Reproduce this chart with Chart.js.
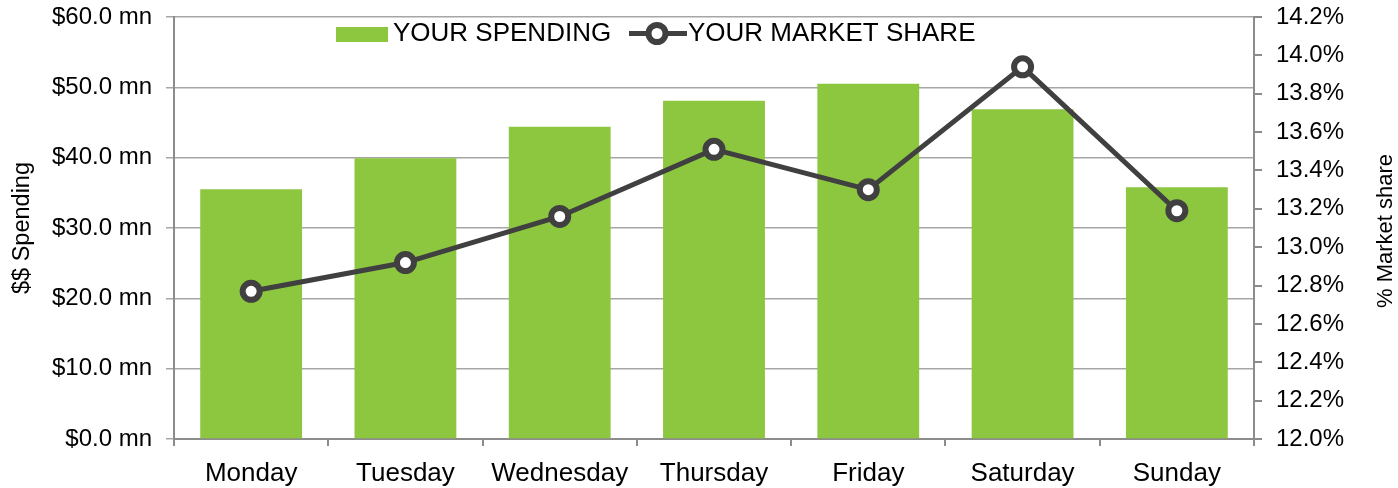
<!DOCTYPE html>
<html>
<head>
<meta charset="utf-8">
<script src="https://cdn.jsdelivr.net/npm/chart.js@4/dist/chart.umd.min.js"></script>
<style>
  body { margin: 0; background: #fff; }
  #wrap { width: 1398px; height: 488px; position: relative; }
</style>
</head>
<body>
<div id="wrap"><canvas id="myChart"></canvas></div>
<script>
// ---- data ----
const days = ['Monday', 'Tuesday', 'Wednesday', 'Thursday', 'Friday', 'Saturday', 'Sunday'];
const spending = [35.5, 39.9, 44.4, 48.1, 50.5, 46.9, 35.8];      // $ mn
const marketShare = [12.77, 12.92, 13.16, 13.51, 13.30, 13.94, 13.19]; // %

const spendingLabel = 'YOUR SPENDING';
const shareLabel = 'YOUR MARKET SHARE';

const GREEN = '#8dc63f';
const DARK = '#404040';
const AXIS = '#8c8c8c';
const FONT = "'Liberation Sans', Arial, Helvetica, sans-serif";

// legend sits inside the plot, drawn by hand so it takes no layout space
const insideLegend = {
  id: 'insideLegend',
  afterDraw(chart) {
    const ctx = chart.ctx;
    const ds = chart.data.datasets;
    ctx.save();
    ctx.font = '26px ' + FONT;
    ctx.textBaseline = 'middle';
    ctx.textAlign = 'left';
    const y = 33.5;
    // bar entry
    ctx.fillStyle = ds[0].backgroundColor;
    ctx.fillRect(336, 27, 52, 15);
    ctx.fillStyle = '#000';
    ctx.fillText(ds[0].label, 393, y);
    // line entry
    ctx.strokeStyle = ds[1].borderColor;
    ctx.lineWidth = 5;
    ctx.beginPath();
    ctx.moveTo(629, y);
    ctx.lineTo(687, y);
    ctx.stroke();
    ctx.beginPath();
    ctx.arc(657, y, 8.5, 0, Math.PI * 2);
    ctx.fillStyle = '#fff';
    ctx.fill();
    ctx.lineWidth = 6;
    ctx.stroke();
    ctx.fillStyle = '#000';
    ctx.fillText(ds[1].label, 688, y);

    // right axis title reads bottom to top
    ctx.font = '22px ' + FONT;
    ctx.translate(1386, 231);
    ctx.rotate(-Math.PI / 2);
    ctx.textAlign = 'center';
    ctx.fillText('% Market share', 0, 0);
    ctx.restore();
  }
};

const data = {
  labels: days,
  datasets: [{
    type: 'bar',
    label: spendingLabel,
    data: spending,
    yAxisID: 'y',
    backgroundColor: GREEN,
    barPercentage: 0.66,
    categoryPercentage: 1,
    order: 1
  }, {
    type: 'line',
    label: shareLabel,
    data: marketShare,
    yAxisID: 'y1',
    borderColor: DARK,
    borderWidth: 5,
    pointBackgroundColor: '#fff',
    pointBorderColor: DARK,
    pointBorderWidth: 6,
    pointRadius: 8.5,
    tension: 0,
    order: 0
  }]
};

const config = {
  type: 'bar',
  data: data,
  options: {
    responsive: true,
    maintainAspectRatio: false,
    animation: false,
    layout: { padding: { top: 17, left: 0, right: 0, bottom: 0 } },
    plugins: {
      legend: { display: false },
      tooltip: { enabled: false }
    },
    scales: {
      x: {
        grid: {
          offset: true,
          drawOnChartArea: false,
          drawTicks: true,
          tickLength: 7,
          color: AXIS,
          lineWidth: 2
        },
        border: { color: AXIS, width: 2 },
        ticks: { color: '#000', font: { family: FONT, size: 26 }, padding: 12, maxRotation: 0 },
        afterFit: s => { s.height = 49; s.paddingLeft = 0; s.paddingRight = 0; }
      },
      y: {
        position: 'left',
        min: 0,
        max: 60,
        ticks: {
          stepSize: 10,
          color: '#000',
          font: { family: FONT, size: 24 },
          padding: 14,
          callback: v => '$' + Number(v).toFixed(1) + ' mn'
        },
        grid: { color: '#a6a6a6', lineWidth: 1.5, tickLength: 8 },
        border: { color: AXIS, width: 2 },
        title: {
          display: true,
          text: '$$ Spending',
          color: '#000',
          font: { family: FONT, size: 23.5 },
          padding: { top: 8, bottom: 0 }
        },
        afterFit: s => { s.width = 174; s.paddingTop = 0; s.paddingBottom = 0; }
      },
      y1: {
        position: 'right',
        min: 12,
        max: 14.2,
        ticks: {
          stepSize: 0.2,
          color: '#000',
          font: { family: FONT, size: 24 },
          padding: 14,
          callback: v => Number(v).toFixed(1) + '%'
        },
        grid: { drawOnChartArea: false, color: AXIS, lineWidth: 2, tickLength: 8 },
        border: { color: AXIS, width: 2 },
        afterFit: s => { s.width = 144; s.paddingTop = 0; s.paddingBottom = 0; }
      }
    }
  },
  plugins: [insideLegend]
};

const myChart = new Chart(document.getElementById('myChart'), config);
</script>
</body>
</html>
